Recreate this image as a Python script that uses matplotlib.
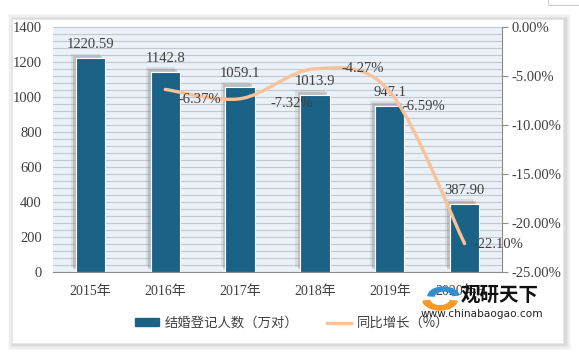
"""Marriage registrations 2015-2020H1, bars + smoothed YoY growth line."""
import numpy as np
import matplotlib
matplotlib.use("Agg")
import matplotlib.pyplot as plt
from matplotlib import patheffects as pe
from matplotlib.patches import Rectangle, Wedge
from matplotlib.lines import Line2D
from matplotlib.path import Path
from matplotlib.patches import PathPatch

plt.rcParams.update({"font.family": ["Liberation Serif", "Noto Sans CJK SC", "DejaVu Sans"],
                     "font.size": 10, "text.color": "#404040",
                     "xtick.color": "#404040", "ytick.color": "#404040"})

YEARS = ["2015年", "2016年", "2017年", "2018年", "2019年", "2020年H1"]
COUNT = [1220.59, 1142.8, 1059.1, 1013.9, 947.1, 387.90]
COUNT_LBL = ["1220.59", "1142.8", "1059.1", "1013.9", "947.1", "387.90"]
GROWTH = [None, -6.37, -7.32, -4.27, -6.59, -22.10]
GROWTH_LBL = ["", "-6.37%", "-7.32%", "-4.27%", "-6.59%", "-22.10%"]
# label offsets (points) for the growth labels, left-anchored
G_OFF = [(0, 0), (9.4, -7.3), (21.6, -3.6), (19.4, 0), (9.4, -11), (6.5, -1)]

BAR, LINE, BG, GRID = "#1B6386", "#F8C39B", "#EAF1F8", "#C4C7CB"

fig = plt.figure(figsize=(5.79, 3.53), dpi=100)

# card with soft shadow
for i, a in enumerate([0.04, 0.05, 0.06, 0.07]):
    d = (4 - i) * 1.6
    fig.patches.append(Rectangle(((12 - d + 2) / 579, 1 - (343 + d + 1) / 353),
                                 (551 + 2 * d) / 579, (324 + 2 * d) / 353,
                                 transform=fig.transFigure, color="#555", alpha=a,
                                 lw=0, zorder=-5))
fig.patches.append(Rectangle((12 / 579, 1 - 343 / 353), 551 / 579, 324 / 353,
                             transform=fig.transFigure, facecolor="white",
                             edgecolor="#E6E6E6", lw=0.6, zorder=-4))
fig.patches.append(Rectangle((548 / 579, 1 - 5 / 353), 40 / 579, 20 / 353,
                             transform=fig.transFigure, facecolor="white",
                             edgecolor="#CFCFCF", lw=0.8, zorder=-3))

ax = fig.add_axes([53 / 579, 1 - 272 / 353, 449 / 579, 245 / 353])
ax.set_facecolor(BG)
x = np.arange(len(YEARS))
bars = ax.bar(x, COUNT, width=0.39, color=BAR, edgecolor="white", linewidth=0.8, zorder=3)
for b in bars:
    b.set_path_effects([pe.SimplePatchShadow(offset=(-3.5, 3.5), shadow_rgbFace="#8A8A8A", alpha=0.18),
                        pe.SimplePatchShadow(offset=(-2, 2), shadow_rgbFace="#8A8A8A", alpha=0.35),
                        pe.Normal()])
for xi, v, s in zip(x, COUNT, COUNT_LBL):
    ax.annotate(s, (xi, v), xytext=(0, 5), textcoords="offset points",
                ha="center", va="bottom", fontsize=10.5, zorder=5)

ax.set_ylim(0, 1400)
ax.set_xlim(-0.5, len(YEARS) - 0.5)
ax.set_yticks(range(0, 1401, 200))
ax.set_yticks(range(0, 1401, 40), minor=True)
ax.yaxis.grid(True, which="both", color=GRID, lw=0.8, zorder=0)
ax.set_axisbelow(True)
ax.tick_params(axis="y", which="both", length=0, pad=8, labelsize=10.5)
ax.set_xticks(x)
ax.set_xticklabels(YEARS)
ax.tick_params(axis="x", length=0, pad=9, labelsize=10)
for s in ["top", "left", "right"]:
    ax.spines[s].set_visible(False)
ax.spines["bottom"].set_color("#8C8C8C")

# growth line, smoothed Catmull-Rom like the spreadsheet's smooth line
ax2 = ax.twinx()
ax2.set_ylim(-25, 0)
ax2.set_yticks(range(-25, 1, 5))
ax2.set_yticklabels([f"{v:.2f}%" for v in range(-25, 1, 5)])
ax2.tick_params(axis="y", length=4, width=0.8, color="#8C8C8C", pad=3, labelsize=10.5)
for s in ["top", "left", "bottom"]:
    ax2.spines[s].set_visible(False)
ax2.spines["right"].set_color("#8C8C8C")

gx = np.array([xi for xi, g in zip(x, GROWTH) if g is not None], float)
gy = np.array([g for g in GROWTH if g is not None], float)
P = np.column_stack([gx, gy])
Pe = np.vstack([P[0], P, P[-1]])
verts, codes = [tuple(P[0])], [Path.MOVETO]
for i in range(1, len(Pe) - 2):
    c1 = Pe[i] + (Pe[i + 1] - Pe[i - 1]) / 6
    c2 = Pe[i + 1] - (Pe[i + 2] - Pe[i]) / 6
    verts += [tuple(c1), tuple(c2), tuple(Pe[i + 1])]
    codes += [Path.CURVE4] * 3
ax2.add_patch(PathPatch(Path(verts, codes), facecolor="none", edgecolor=LINE,
                        lw=2.4, zorder=4, capstyle="round"))
for xi, g, s, off in zip(x, GROWTH, GROWTH_LBL, G_OFF):
    if g is None:
        continue
    ax2.annotate(s, (xi, g), xytext=off, textcoords="offset points",
                 ha="left", va="center", fontsize=10.5, zorder=6)

handles = [Rectangle((0, 0), 1, 1, color=BAR), Line2D([], [], color=LINE, lw=2.4)]
fig.legend(handles, ["结婚登记人数（万对）", "同比增长（%）"], loc="center",
           bbox_to_anchor=(292 / 579, 1 - 323 / 353), ncol=2, frameon=False,
           handlelength=1.8, handleheight=0.55, handletextpad=0.4, columnspacing=2.2,
           prop={"family": ["Noto Sans CJK SC"], "size": 9.6})

# watermark
wx, wy = 440 / 579, 1 - 298 / 353
fig.patches.append(Wedge((wx, wy - 0.004), 0.03, 190, 350, width=0.012, transform=fig.transFigure,
                         color="#F39A2B", zorder=10))
fig.patches.append(Wedge((wx + 0.006, wy + 0.004), 0.027, 10, 175, width=0.011,
                         transform=fig.transFigure, color="#2F8FD0", zorder=10))
fig.text(500 / 579, 1 - 295 / 353, "观研天下", ha="center", va="center", fontsize=14,
         fontweight="bold", color="#111", family=["Noto Sans CJK SC"], zorder=11)
fig.text(482 / 579, 1 - 314 / 353, "www.chinabaogao.com", ha="center", va="center",
         fontsize=7.6, color="#222", family=["DejaVu Sans"], zorder=11)

fig.savefig("out.png", dpi=100)
